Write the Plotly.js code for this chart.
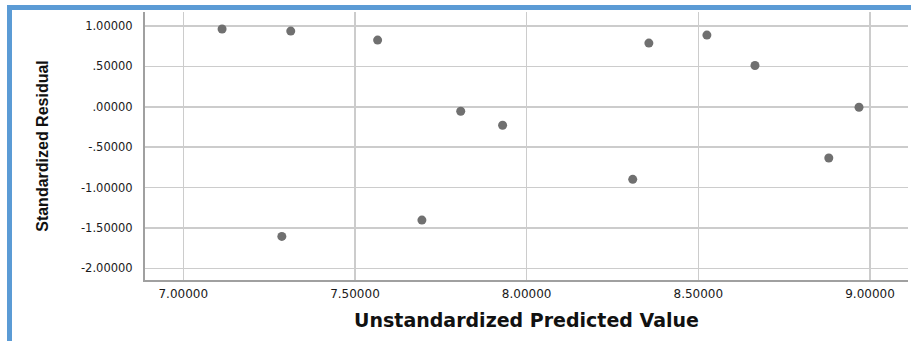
<!DOCTYPE html>
<html>
<head>
<meta charset="utf-8">
<script src="https://cdn.plot.ly/plotly-3.0.1.min.js"></script>
<style>
  html, body { margin: 0; padding: 0; background: #ffffff; }
  #wrap { position: relative; width: 911px; height: 341px; overflow: hidden; }
  #chart { position: absolute; left: 0; top: 0; width: 911px; height: 341px; }
  #frame { position: absolute; left: 7px; top: 5px; right: 0; bottom: 0;
           border-top: 5px solid #5b9bd5; border-left: 5px solid #5b9bd5;
           pointer-events: none; }
</style>
</head>
<body>
<div id="wrap">
  <div id="chart"></div>
  <div id="frame"></div>
</div>
<script>
// Unstandardized predicted values (x) and standardized residuals (y)
const predicted = [7.113, 7.287, 7.313, 7.566, 7.695, 7.808, 7.930, 8.309, 8.356, 8.525, 8.665, 8.880, 8.968];
const residuals = [0.963, -1.605, 0.938, 0.826, -1.403, -0.055, -0.228, -0.898, 0.789, 0.888, 0.512, -0.634, -0.005];

const xTickVals = [7.0, 7.5, 8.0, 8.5, 9.0];
const xTickText = ["7.00000", "7.50000", "8.00000", "8.50000", "9.00000"];
const yTickVals = [1.0, 0.5, 0.0, -0.5, -1.0, -1.5, -2.0];
const yTickText = ["1.00000", ".50000", ".00000", "-.50000", "-1.00000", "-1.50000", "-2.00000"];

const xTitle = "Unstandardized Predicted Value";
const yTitle = "Standardized Residual";

const trace = {
  type: "scatter",
  mode: "markers",
  x: predicted,
  y: residuals,
  marker: { color: "#707070", size: 9, line: { width: 0 } },
  hoverinfo: "x+y"
};

const layout = {
  width: 911,
  height: 341,
  margin: { l: 145, r: 3, t: 12, b: 61, pad: 0 },
  paper_bgcolor: "#ffffff",
  plot_bgcolor: "#ffffff",
  showlegend: false,
  font: { family: "DejaVu Sans, Arial, sans-serif", size: 11, color: "#1a1a1a" },
  xaxis: {
    range: [6.8885, 9.1107],
    tickvals: xTickVals,
    ticktext: xTickText,
    showgrid: true,
    gridcolor: "#cccccc",
    gridwidth: 1.5,
    zeroline: false,
    showline: true,
    linecolor: "#a0a0a0",
    linewidth: 2,
    ticks: "",
    ticklabelstandoff: 2,
    tickfont: { family: "DejaVu Sans, Arial, sans-serif", size: 12, color: "#1a1a1a" },
    automargin: false,
    title: {
      text: xTitle,
      standoff: 13,
      font: { family: "DejaVu Sans, Arial, sans-serif", size: 19, color: "#111111", weight: "bold" }
    }
  },
  yaxis: {
    range: [-2.145, 1.174],
    tickvals: yTickVals,
    ticktext: yTickText,
    showgrid: true,
    gridcolor: "#cccccc",
    gridwidth: 1.5,
    zeroline: false,
    showline: true,
    linecolor: "#a0a0a0",
    linewidth: 2,
    ticks: "",
    ticklabelstandoff: 8,
    tickfont: { family: "DejaVu Sans, Arial, sans-serif", size: 11.5, color: "#1a1a1a" },
    automargin: false,
    title: {
      text: yTitle,
      standoff: 28,
      font: { family: "Liberation Sans, Arial, sans-serif", size: 16, color: "#111111", weight: "bold" }
    }
  }
};

Plotly.newPlot("chart", [trace], layout, { displayModeBar: false, staticPlot: true });
</script>
</body>
</html>
